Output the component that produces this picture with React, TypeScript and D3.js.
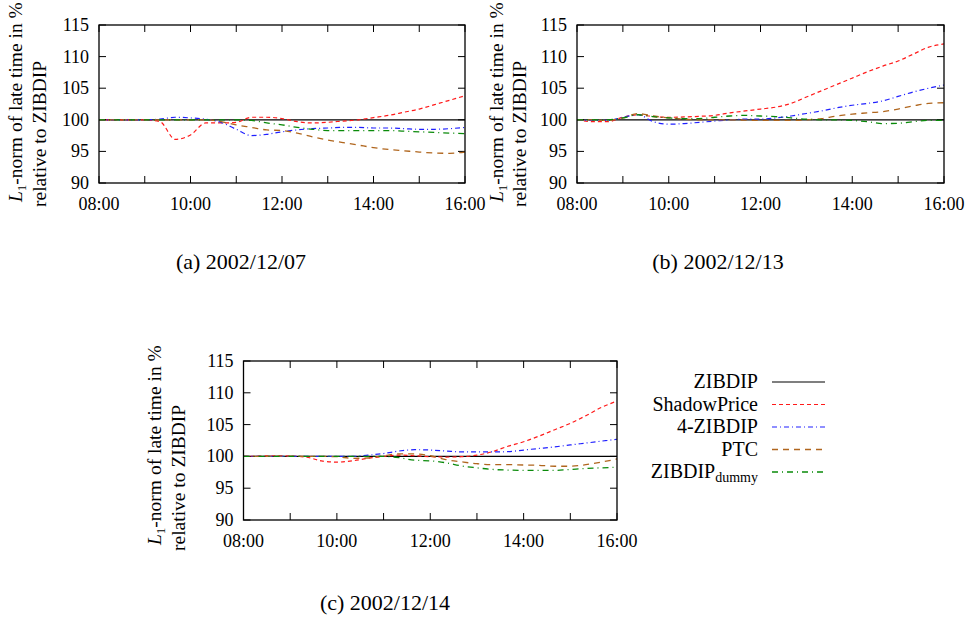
import React from "react";
import * as d3 from "d3";

// sample times (every 20 minutes)
const times = [
  "08:00", "08:20", "08:40", "09:00", "09:20", "09:40", "10:00", "10:20", "10:40",
  "11:00", "11:20", "11:40", "12:00", "12:20", "12:40", "13:00", "13:20", "13:40",
  "14:00", "14:20", "14:40", "15:00", "15:20", "15:40", "16:00",
];

const yTicks = [90, 95, 100, 105, 110, 115];
const xTickHours = [8, 9, 10, 11, 12, 13, 14, 15, 16];
const xLabelHours = [8, 10, 12, 14, 16];

// (a) 2002/12/07
const zibdipA = [100, 100, 100, 100, 100, 100, 100, 100, 100, 100, 100, 100, 100, 100, 100, 100, 100, 100, 100, 100, 100, 100, 100, 100, 100];
const shadowA = [100, 100, 100, 100, 99.7, 96.9, 97.6, 99.5, 99.5, 99.6, 100.4, 100.4, 100.2, 99.7, 99.5, 99.6, 99.8, 100.0, 100.35, 100.7, 101.2, 101.7, 102.4, 103.1, 103.8];
const fourA = [100, 100, 100, 100, 100.1, 100.4, 100.3, 100.1, 99.6, 98.5, 97.5, 97.7, 98.1, 98.4, 98.6, 98.7, 98.8, 98.8, 98.7, 98.7, 98.6, 98.5, 98.5, 98.6, 98.8];
const ptcA = [100, 100, 100, 100, 100, 100, 100, 100, 99.7, 99.2, 98.8, 98.4, 98.3, 97.9, 97.3, 96.8, 96.4, 96.0, 95.6, 95.3, 95.1, 94.9, 94.75, 94.7, 94.9];
const dummyA = [100, 100, 100, 100, 100, 100, 100, 100, 100, 100, 99.9, 99.5, 99.2, 98.8, 98.5, 98.3, 98.3, 98.3, 98.3, 98.3, 98.2, 98.1, 98.0, 97.9, 97.8];

// (b) 2002/12/13
const zibdipB = [100, 100, 100, 100, 100, 100, 100, 100, 100, 100, 100, 100, 100, 100, 100, 100, 100, 100, 100, 100, 100, 100, 100, 100, 100];
const shadowB = [100, 99.7, 99.7, 100.4, 100.8, 100.5, 100.4, 100.45, 100.55, 100.7, 101.1, 101.4, 101.7, 102.0, 102.6, 103.6, 104.6, 105.6, 106.6, 107.6, 108.5, 109.3, 110.4, 111.5, 112.0];
const fourB = [100, 99.9, 99.9, 100.4, 100.8, 99.7, 99.3, 99.4, 99.6, 99.8, 100.0, 100.1, 100.1, 100.3, 100.6, 101.0, 101.4, 101.9, 102.3, 102.6, 103.0, 103.7, 104.4, 105.0, 105.5];
const ptcB = [100, 100, 99.9, 100.3, 101.0, 100.6, 100.3, 100.1, 100.0, 100.0, 100.0, 99.95, 99.9, 99.9, 99.9, 100.0, 100.2, 100.6, 100.9, 101.1, 101.3, 101.7, 102.2, 102.6, 102.7];
const dummyB = [100, 100, 100, 100.3, 100.8, 100.5, 100.3, 100.2, 100.2, 100.4, 100.6, 100.7, 100.6, 100.5, 100.3, 100.1, 100.0, 100.0, 99.9, 99.7, 99.4, 99.45, 99.7, 99.9, 99.9];

// (c) 2002/12/14
const zibdipC = [100, 100, 100, 100, 100, 100, 100, 100, 100, 100, 100, 100, 100, 100, 100, 100, 100, 100, 100, 100, 100, 100, 100, 100, 100];
const shadowC = [100, 100.05, 100.1, 100.05, 99.9, 99.3, 99.1, 99.3, 99.7, 100.0, 100.2, 100.1, 99.95, 99.9, 99.95, 100.2, 100.75, 101.6, 102.3, 103.2, 104.2, 105.2, 106.4, 107.7, 108.7];
const fourC = [100, 100, 100, 100, 100, 100, 100, 100, 100.2, 100.45, 100.85, 101.05, 101.0, 100.85, 100.7, 100.7, 100.7, 100.75, 101.0, 101.25, 101.5, 101.8, 102.1, 102.4, 102.7];
const ptcC = [100, 100, 100.05, 100.05, 100, 100, 99.95, 99.7, 99.75, 100.1, 100.4, 100.4, 100.1, 99.5, 99.15, 98.85, 98.7, 98.7, 98.65, 98.6, 98.45, 98.45, 98.7, 99.1, 99.6];
const dummyC = [100, 100, 100, 100, 100, 100, 100, 100, 100, 100, 99.8, 99.4, 99.3, 99.0, 98.5, 98.2, 97.95, 97.85, 97.8, 97.8, 97.8, 97.95, 98.1, 98.2, 98.3];

const seriesNames = ["ZIBDIP", "ShadowPrice", "4-ZIBDIP", "PTC", "ZIBDIP_dummy"];

const styles: Record<string, { color: string; dash: string; width: number }> = {
  ZIBDIP: { color: "#000000", dash: "none", width: 1.2 },
  ShadowPrice: { color: "#ff1a1a", dash: "4,3", width: 1.2 },
  "4-ZIBDIP": { color: "#2020ff", dash: "5,3,1,3", width: 1.2 },
  PTC: { color: "#b0661e", dash: "6,5", width: 1.3 },
  ZIBDIP_dummy: { color: "#0a8a0a", dash: "6,4,1,4", width: 1.3 },
};

const FONT = "Liberation Serif, Times New Roman, DejaVu Serif, serif";
const TICK_FS = 18;
const LABEL_FS = 19.5;
const LEGEND_FS = 20;
const CAPTION_FS = 22;

const hourOf = (t: string) => {
  const [h, m] = t.split(":").map(Number);
  return h + m / 60;
};

const fmtHour = (h: number) => `${String(h).padStart(2, "0")}:00`;

type PanelCfg = {
  caption: string;
  x0: number; x1: number; y0: number; y1: number;
  capX: number; capY: number;
  lab1: number; lab2: number; start1: number; start2: number;
  series: number[][];
};

const panels: PanelCfg[] = [
  { caption: "(a) 2002/12/07", x0: 99, x1: 465, y0: 25, y1: 183, capX: 241, capY: 269,
    lab1: 22, lab2: 46, start1: 202, start2: 207, series: [zibdipA, shadowA, fourA, ptcA, dummyA] },
  { caption: "(b) 2002/12/13", x0: 577, x1: 944, y0: 25, y1: 183, capX: 718, capY: 269,
    lab1: 503, lab2: 526, start1: 202, start2: 207, series: [zibdipB, shadowB, fourB, ptcB, dummyB] },
  { caption: "(c) 2002/12/14", x0: 243.5, x1: 617, y0: 361, y1: 520, capX: 385, capY: 610,
    lab1: 161, lab2: 185, start1: 545, start2: 551, series: [zibdipC, shadowC, fourC, ptcC, dummyC] },
];

function Panel({ p }: { p: PanelCfg }) {
  const x = d3.scaleLinear().domain([8, 16]).range([p.x0, p.x1]);
  const y = d3.scaleLinear().domain([90, 115]).range([p.y1, p.y0]);
  const hours = times.map(hourOf);
  const line = d3
    .line<number>()
    .x((_, i) => x(hours[i]))
    .y((d) => y(d))
    .curve(d3.curveMonotoneX);
  const tick = 7;
  const cid = `clip-${p.caption[1]}`;
  return (
    <g>
      <defs>
        <clipPath id={cid}>
          <rect x={p.x0} y={p.y0} width={p.x1 - p.x0} height={p.y1 - p.y0} />
        </clipPath>
      </defs>
      {xTickHours.map((h) => (
        <g key={"xt" + h} stroke="#000" strokeWidth={1}>
          <line x1={x(h)} x2={x(h)} y1={p.y1} y2={p.y1 - tick} />
          <line x1={x(h)} x2={x(h)} y1={p.y0} y2={p.y0 + tick} />
        </g>
      ))}
      {yTicks.map((v) => (
        <g key={"yt" + v} stroke="#000" strokeWidth={1}>
          <line x1={p.x0} x2={p.x0 + tick} y1={y(v)} y2={y(v)} />
          <line x1={p.x1} x2={p.x1 - tick} y1={y(v)} y2={y(v)} />
        </g>
      ))}
      <g clipPath={`url(#${cid})`}>
        {p.series.map((s, i) => {
          const st = styles[seriesNames[i]];
          return (
            <path
              key={seriesNames[i]}
              d={line(s) || ""}
              fill="none"
              stroke={st.color}
              strokeWidth={st.width}
              strokeDasharray={st.dash}
            />
          );
        })}
      </g>
      <rect x={p.x0} y={p.y0} width={p.x1 - p.x0} height={p.y1 - p.y0} fill="none" stroke="#000" strokeWidth={1.3} />
      <g fontSize={TICK_FS}>
        {yTicks.map((v) => (
          <text key={"yl" + v} x={p.x0 - 10} y={y(v) + 6} textAnchor="end">{v}</text>
        ))}
        {xLabelHours.map((h) => (
          <text key={"xl" + h} x={x(h)} y={p.y1 + 27} textAnchor="middle">{fmtHour(h)}</text>
        ))}
      </g>
      <g fontSize={LABEL_FS}>
        <text transform={`translate(${p.lab1},${p.start1}) rotate(-90)`}>
          <tspan fontStyle="italic">L</tspan>
          <tspan dy={4} fontSize={13}>1</tspan>
          <tspan dy={-4}>-norm of late time in %</tspan>
        </text>
        <text transform={`translate(${p.lab2},${p.start2}) rotate(-90)`}>relative to ZIBDIP</text>
      </g>
      <text x={p.capX} y={p.capY} textAnchor="middle" fontSize={CAPTION_FS}>{p.caption}</text>
    </g>
  );
}

function Legend() {
  const rowY = d3.scaleLinear().domain([0, 4]).range([382, 472]);
  return (
    <g fontSize={LEGEND_FS}>
      {seriesNames.map((name, i) => {
        const st = styles[name];
        const cy = rowY(i);
        const isDummy = name === "ZIBDIP_dummy";
        return (
          <g key={name}>
            <text x={758} y={cy + 6} textAnchor="end">
              {isDummy ? (
                <>
                  <tspan>ZIBDIP</tspan>
                  <tspan dy={4} fontSize={14}>dummy</tspan>
                </>
              ) : (
                name
              )}
            </text>
            <line x1={772} x2={825} y1={cy} y2={cy} stroke={st.color} strokeWidth={st.width} strokeDasharray={st.dash} />
          </g>
        );
      })}
    </g>
  );
}

export default function App() {
  return (
    <svg
      width={966}
      height={619}
      style={{ position: "absolute", left: 0, top: 0, background: "#fff" }}
      fontFamily={FONT}
      fill="#000"
    >
      <rect width={966} height={619} fill="#fff" />
      {panels.map((p) => (
        <Panel key={p.caption} p={p} />
      ))}
      <Legend />
    </svg>
  );
}
